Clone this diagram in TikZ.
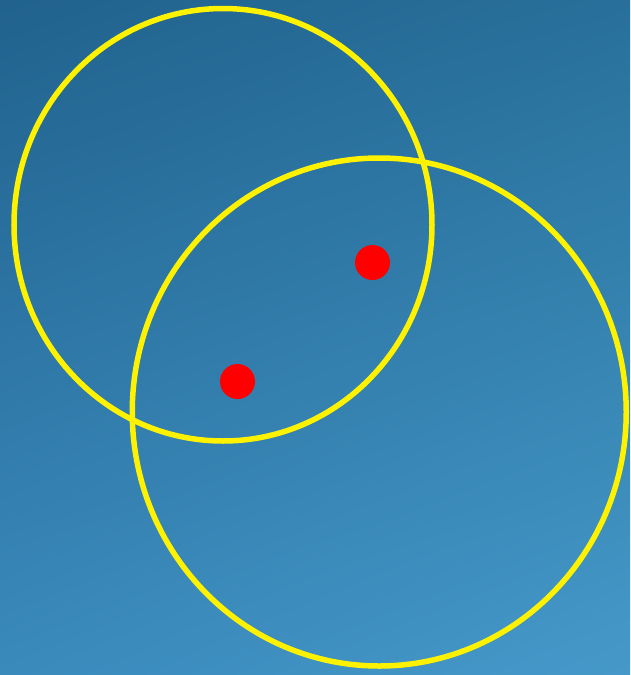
\documentclass[tikz,border=0pt]{standalone}
\usetikzlibrary{shadings}
\definecolor{bgul}{RGB}{33,98,142}
\definecolor{bgur}{RGB}{40,112,155}
\definecolor{bgll}{RGB}{58,138,188}
\definecolor{bglr}{RGB}{69,153,201}
\begin{document}
\begin{tikzpicture}[x=1pt,y=-1pt,
  ring/.style={draw=yellow,line width=5.5pt},
  dot/.style={circle,fill=red,inner sep=0pt,minimum size=35pt}]
\shade[upper left=bgul,upper right=bgur,lower left=bgll,lower right=bglr]
  (0,0) rectangle (630,675);
\useasboundingbox (0,0) rectangle (630,675);
\coordinate (c1) at (223,224.75);
\coordinate (c2) at (379.25,412);
\draw[ring] (c1) ellipse [x radius=209, y radius=216.25];
\draw[ring] (c2) ellipse [x radius=247, y radius=254];
\node[dot] (d1) at (372.5,262.5) {};
\node[dot] (d2) at (237.5,381.5) {};
\end{tikzpicture}
\end{document}
